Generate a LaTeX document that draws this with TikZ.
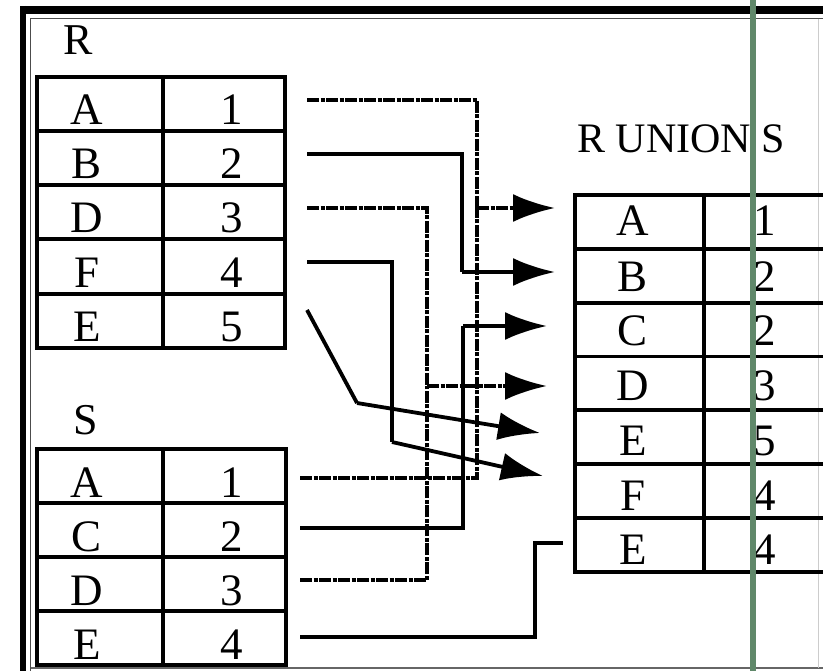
\documentclass[tikz,border=0pt]{standalone}
\usepackage{fontspec}
\setmainfont{Liberation Serif}
\usetikzlibrary{arrows.meta}
\definecolor{cursorgreen}{RGB}{96,136,106}
\begin{document}
\begin{tikzpicture}[x=1pt,y=-1pt,
  tbl/.style={line width=3.2pt},
  cell/.style={font=\fontsize{45}{50}\selectfont, anchor=base, inner sep=0pt},
  ttl/.style={font=\fontsize{44}{50}\selectfont, anchor=base west, inner sep=0pt},
  conn/.style={line width=3.8pt},
  dconn/.style={conn, dash pattern=on 12pt off 1.5pt on 4pt off 1.5pt},
  tip/.style={-{Latex[length=42pt,width=28pt]}}]
\useasboundingbox (0,0) rectangle (823,671);
\clip (0,0) rectangle (823,671);
\fill[white] (0,0) rectangle (823,671);

% frame
\draw[line width=8pt] (20,10) -- (823,10);
\draw[line width=6pt] (23,6) -- (23,671);
\draw[line width=1.5pt, black!70] (30.5,671) |- (823,18.5);
\draw[line width=1.5pt, black!60] (30.5,668) -- (823,668);
\draw[line width=1pt, black!20] (818,19) -- (818,668);

% titles
\node[ttl] (rt) at (63,55) {R};
\node[ttl] (st) at (73,435) {S};
\node[ttl, font=\fontsize{42}{50}\selectfont] (ut) at (577,153) {R UNION S};

% table R
\draw[tbl] (37,77) rectangle (285,348);
\draw[tbl] (163,77) -- (163,348);
\foreach \y in {131,185,239,294} \draw[tbl] (37,\y) -- (285,\y);
\foreach \l/\n/\b [count=\i] in {A/1/125,B/2/179,D/3/233,F/4/288,E/5/342}{
  \node[cell] (rl\i) at (87,\b) {\l};
  \node[cell] (rn\i) at (232,\b) {\n};
}

% table S
\draw[tbl] (37,449) rectangle (286,665);
\draw[tbl] (163,449) -- (163,665);
\foreach \y in {503,557,611} \draw[tbl] (37,\y) -- (286,\y);
\foreach \l/\n/\b [count=\i] in {A/1/497,C/2/551,D/3/605,E/4/659}{
  \node[cell] (sl\i) at (87,\b) {\l};
  \node[cell] (sn\i) at (232,\b) {\n};
}

% table R UNION S
\draw[tbl] (575,195) rectangle (830,572);
\draw[tbl] (704,195) -- (704,572);
\foreach \y in {249,303,356.5,410,464,518} \draw[tbl] (575,\y) -- (830,\y);
\foreach \l/\n/\b [count=\i] in {A/1/236,B/2/292,C/2/346,D/3/401,E/5/455,F/4/510,E/4/564}{
  \node[cell] (ul\i) at (633,\b) {\l};
  \node[cell] (un\i) at (765,\b) {\n};
}

% connector ports
\coordinate (pRA) at (307,100);
\coordinate (pRB) at (307,154);
\coordinate (pRD) at (307,208);
\coordinate (pRF) at (307,262);
\coordinate (pRE) at (307,310);
\coordinate (pSA) at (300,478);
\coordinate (pSC) at (300,528);
\coordinate (pSD) at (300,580);
\coordinate (pSE) at (300,637);
\coordinate (jA) at (477,208);
\coordinate (jB) at (462,272);
\coordinate (jC) at (463,326);
\coordinate (jD) at (427,386);
\coordinate (jE) at (357,403);
\coordinate (jF) at (392,442);
\coordinate (jE4) at (535,543);
\coordinate (tA) at (555,208);
\coordinate (tB) at (555,272);
\coordinate (tC) at (547,326);
\coordinate (tD) at (547,386);
\coordinate (tE) at (540,433);
\coordinate (tF) at (543,476);
\coordinate (tE4) at (563,543);

% connectors
\draw[dconn] (pRA) -| (jA);
\draw[dconn] (pSA) -| (jA);
\draw[dconn, tip] (jA) -- (tA);
\draw[conn] (pRB) -| (jB);
\draw[conn, tip] (jB) -- (tB);
\draw[conn] (pSC) -| (jC);
\draw[conn, tip] (jC) -- (tC);
\draw[dconn] (pRD) -| (jD);
\draw[dconn] (pSD) -| (jD);
\draw[dconn, tip] (jD) -- (tD);
\draw[conn] (pRE) -- (jE);
\draw[conn, tip] (jE) -- (tE);
\draw[conn] (pRF) -| (jF);
\draw[conn, tip] (jF) -- (tF);
\draw[conn] (pSE) -| (jE4) -- (tE4);

% vertical green line
\fill[cursorgreen] (750,0) rectangle (756,671);
\end{tikzpicture}
\end{document}
